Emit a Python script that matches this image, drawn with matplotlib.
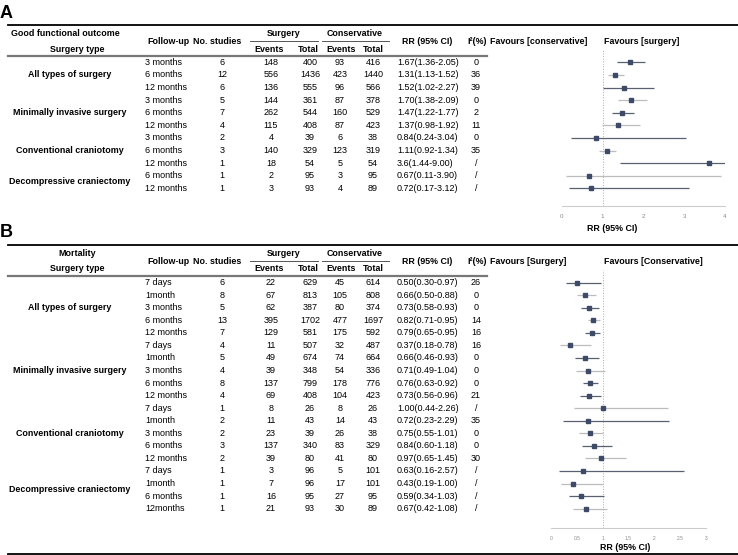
import matplotlib
matplotlib.use("Agg")
import matplotlib.pyplot as plt
from matplotlib.lines import Line2D

plt.rcParams['font.family'] = ['Liberation Sans', 'DejaVu Sans']

W, H = 738, 555

# ---------------- panel A data ----------------
a_groups = ["All types of surgery", "Minimally invasive surgery",
            "Conventional craniotomy", "Decompressive craniectomy"]
a_group_rows = [1, 4, 7, 9.5]
a_followup = ["3 months", "6 months", "12 months",
              "3 months", "6 months", "12 months",
              "3 months", "6 months", "12 months",
              "6 months", "12 months"]
a_studies = [6, 12, 6, 5, 7, 4, 2, 3, 1, 1, 1]
a_surg_events = [148, 556, 136, 144, 262, 115, 4, 140, 18, 2, 3]
a_surg_total = [400, 1436, 555, 361, 544, 408, 39, 329, 54, 95, 93]
a_cons_events = [93, 423, 96, 87, 160, 87, 6, 123, 5, 3, 4]
a_cons_total = [416, 1440, 566, 378, 529, 423, 38, 319, 54, 95, 89]
a_rr = [1.67, 1.31, 1.52, 1.70, 1.47, 1.37, 0.84, 1.11, 3.6, 0.67, 0.72]
a_lo = [1.36, 1.13, 1.02, 1.38, 1.22, 0.98, 0.24, 0.92, 1.44, 0.11, 0.17]
a_hi = [2.05, 1.52, 2.27, 2.09, 1.77, 1.92, 3.04, 1.34, 9.00, 3.90, 3.12]
a_rr_text = ["1.67(1.36-2.05)", "1.31(1.13-1.52)", "1.52(1.02-2.27)",
             "1.70(1.38-2.09)", "1.47(1.22-1.77)", "1.37(0.98-1.92)",
             "0.84(0.24-3.04)", "1.11(0.92-1.34)", "3.6(1.44-9.00)",
             "0.67(0.11-3.90)", "0.72(0.17-3.12)"]
a_i2 = ["0", "36", "39", "0", "2", "11", "0", "35", "/", "/", "/"]
a_ticks = [0, 1, 2, 3, 4]
a_tick_labels = ["0", "1", "2", "3", "4"]

# ---------------- panel B data ----------------
b_groups = ["All types of surgery", "Minimally invasive surgery",
            "Conventional craniotomy", "Decompressive craniectomy"]
b_group_rows = [2, 7, 12, 16.5]
b_followup = ["7 days", "1month", "3 months", "6 months", "12 months",
              "7 days", "1month", "3 months", "6 months", "12 months",
              "7 days", "1month", "3 months", "6 months", "12 months",
              "7 days", "1month", "6 months", "12months"]
b_studies = [6, 8, 5, 13, 7, 4, 5, 4, 8, 4, 1, 2, 2, 3, 2, 1, 1, 1, 1]
b_surg_events = [22, 67, 62, 395, 129, 11, 49, 39, 137, 69, 8, 11, 23, 137, 39, 3, 7, 16, 21]
b_surg_total = [629, 813, 387, 1702, 581, 507, 674, 348, 799, 408, 26, 43, 39, 340, 80, 96, 96, 95, 93]
b_cons_events = [45, 105, 80, 477, 175, 32, 74, 54, 178, 104, 8, 14, 26, 83, 41, 5, 17, 27, 30]
b_cons_total = [614, 808, 374, 1697, 592, 487, 664, 336, 776, 423, 26, 43, 38, 329, 80, 101, 101, 95, 89]
b_rr = [0.50, 0.66, 0.73, 0.82, 0.79, 0.37, 0.66, 0.71, 0.76, 0.73,
        1.00, 0.72, 0.75, 0.84, 0.97, 0.63, 0.43, 0.59, 0.67]
b_lo = [0.30, 0.50, 0.58, 0.71, 0.65, 0.18, 0.46, 0.49, 0.63, 0.56,
        0.44, 0.23, 0.55, 0.60, 0.65, 0.16, 0.19, 0.34, 0.42]
b_hi = [0.97, 0.88, 0.93, 0.95, 0.95, 0.78, 0.93, 1.04, 0.92, 0.96,
        2.26, 2.29, 1.01, 1.18, 1.45, 2.57, 1.00, 1.03, 1.08]
b_rr_text = ["0.50(0.30-0.97)", "0.66(0.50-0.88)", "0.73(0.58-0.93)",
             "0.82(0.71-0.95)", "0.79(0.65-0.95)", "0.37(0.18-0.78)",
             "0.66(0.46-0.93)", "0.71(0.49-1.04)", "0.76(0.63-0.92)",
             "0.73(0.56-0.96)", "1.00(0.44-2.26)", "0.72(0.23-2.29)",
             "0.75(0.55-1.01)", "0.84(0.60-1.18)", "0.97(0.65-1.45)",
             "0.63(0.16-2.57)", "0.43(0.19-1.00)", "0.59(0.34-1.03)",
             "0.67(0.42-1.08)"]
b_i2 = ["26", "0", "0", "14", "16", "16", "0", "0", "0", "21",
        "/", "35", "0", "0", "30", "/", "/", "/", "/"]
b_ticks = [0, 0.5, 1, 1.5, 2, 2.5, 3]
b_tick_labels = ["0", "0.5", "1", "1.5", "2", "2.5", "3"]

# styles
DARK = '#596170'
LIGHT = '#bdbdbd'
MARK = '#3d4b68'
a_line_col = [DARK if i % 2 == 0 else LIGHT for i in range(len(a_rr))]
b_dark_rows = [0, 2, 4, 6, 8, 9, 11, 13, 15, 17]
b_line_col = [DARK if i in b_dark_rows else LIGHT for i in range(len(b_rr))]

FS = 6.5
FSB = 6.4

fig = plt.figure(figsize=(W / 100, H / 100), dpi=100)


def txt(x, y, s, **kw):
    kw.setdefault('fontsize', FS)
    kw.setdefault('va', 'center')
    fig.text(x / W, 1 - y / H, s, **kw)


def hline(x0, x1, y, **kw):
    fig.add_artist(Line2D([x0 / W, x1 / W], [1 - y / H, 1 - y / H],
                          transform=fig.transFigure, **kw))


def draw_panel(letter, top, title, row0, dy, groups, group_rows, followup,
               studies, se, st, ce, ct, rr_text, i2, fav_left, fav_right,
               rr, lo, hi, line_col, ax_box, xmax, ticks, tick_labels,
               tick_fs, xlabel_x, title_x):
    txt(0, top - 12, letter, fontsize=13, fontweight='bold', ha='left')
    hline(8, W, top, color='black', lw=1.3)
    h1, h2, hm = top + 8.5, top + 24, top + 16
    txt(title_x, h1, title, fontweight='bold', fontsize=FSB, ha='center')
    txt(77, h2, "Surgery type", fontweight='bold', fontsize=FSB, ha='center')
    txt(147, hm, "Follow-up", fontweight='bold', fontsize=FSB, ha='left')
    txt(241, hm, "No. studies", fontweight='bold', fontsize=FSB, ha='right')
    txt(284, h1, "Surgery", fontweight='bold', fontsize=FSB, ha='center')
    txt(355, h1, "Conservative", fontweight='bold', fontsize=FSB, ha='center')
    hline(250, 318, top + 16, color='#555555', lw=0.7)
    hline(322, 389, top + 16, color='#555555', lw=0.7)
    for x, s in zip([269, 308, 341, 373], ["Events", "Total", "Events", "Total"]):
        txt(x, h2, s, fontweight='bold', fontsize=FSB, ha='center')
    txt(427, hm, "RR (95% CI)", fontweight='bold', fontsize=FSB, ha='center')
    txt(477, hm, "I²(%)", fontweight='bold', fontsize=FSB, ha='center')
    txt(490, hm, fav_left, fontweight='bold', fontsize=FSB, ha='left')
    txt(604, hm, fav_right, fontweight='bold', fontsize=FSB, ha='left')
    hline(8, 487, top + 31, color='#777777', lw=1.6)

    for g, r in zip(groups, group_rows):
        txt(70, row0 + r * dy, g, fontweight='bold', fontsize=FSB, ha='center')
    for k in range(len(followup)):
        y = row0 + k * dy
        txt(145, y, followup[k], ha='left')
        txt(222, y, str(studies[k]), ha='center')
        txt(271, y, str(se[k]), ha='center')
        txt(310, y, str(st[k]), ha='center')
        txt(340, y, str(ce[k]), ha='center')
        txt(373, y, str(ct[k]), ha='center')
        txt(397, y, rr_text[k], ha='left')
        txt(476, y, i2[k], ha='center')

    # forest plot
    l, r, t, b = ax_box
    ax = fig.add_axes([l / W, 1 - b / H, (r - l) / W, (b - t) / H])
    n = len(rr)
    ax.set_xlim(0, xmax)
    ax.set_ylim((b - row0) / dy, (t - row0) / dy)
    for k in range(n):
        ax.plot([lo[k], min(hi[k], xmax)], [k, k], color=line_col[k],
                lw=0.9, solid_capstyle='butt', zorder=2)
    ax.plot(rr, range(n), 's', color=MARK, markersize=3.3, zorder=3)
    ax.axvline(1, color='#aaaaaa', ls=':', lw=0.7, zorder=1)
    for s in ['top', 'right', 'left']:
        ax.spines[s].set_visible(False)
    ax.spines['bottom'].set_color('#cccccc')
    ax.spines['bottom'].set_linewidth(0.8)
    ax.set_yticks([])
    ax.set_xticks(ticks)
    ax.set_xticklabels(tick_labels)
    ax.tick_params(axis='x', length=0, pad=6, labelsize=tick_fs,
                   labelcolor='#888888')
    ax.set_xlabel("RR (95% CI)", fontsize=FSB, fontweight='bold', labelpad=4)
    ax.xaxis.set_label_coords((xlabel_x - l) / (r - l), -0.0)
    ax.xaxis.label.set_va('top')
    lab_y = (b + (18 if xmax == 4 else 15))
    ax.xaxis.set_label_coords((xlabel_x - l) / (r - l), (b - lab_y) / (b - t))
    return ax


draw_panel("A", 25, "Good functional outcome", 62.3, 12.6, a_groups, a_group_rows,
           a_followup, a_studies, a_surg_events, a_surg_total, a_cons_events,
           a_cons_total, a_rr_text, a_i2, "Favours [conservative]",
           "Favours [surgery]", a_rr, a_lo, a_hi, a_line_col,
           (561.7, 725, 50, 206), 4, a_ticks, a_tick_labels, 4.5, 612, 65)

draw_panel("B", 245, "Mortality", 282.7, 12.55, b_groups, b_group_rows,
           b_followup, b_studies, b_surg_events, b_surg_total, b_cons_events,
           b_cons_total, b_rr_text, b_i2, "Favours [Surgery]",
           "Favours [Conservative]", b_rr, b_lo, b_hi, b_line_col,
           (551, 705.7, 270, 528), 3, b_ticks, b_tick_labels, 3.5, 625, 77)

hline(8, W, 553.5, color='black', lw=1.3)

fig.savefig("out.png", dpi=100)
